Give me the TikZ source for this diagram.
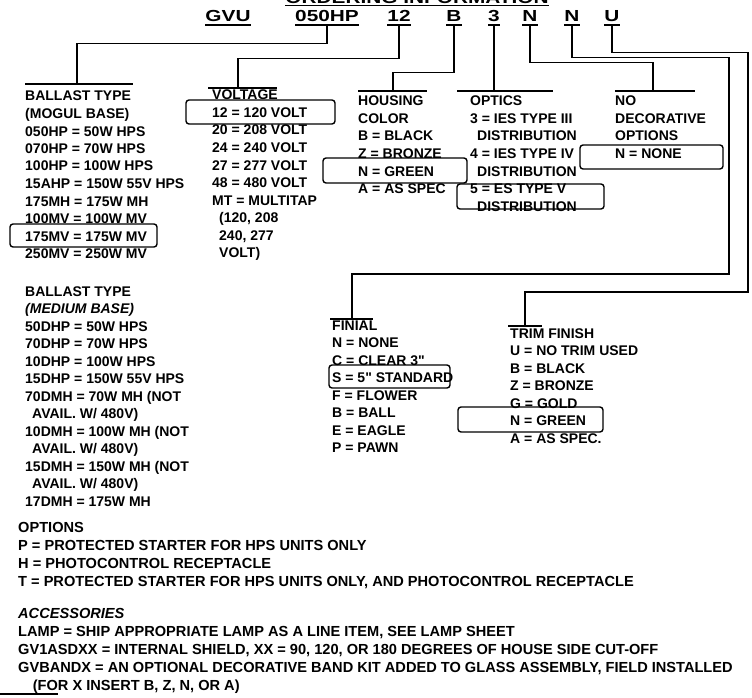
\documentclass[tikz,border=0pt]{standalone}
\usepackage{fontspec}
\setmainfont{Liberation Sans}
\newfontfamily\codefont[FakeStretch=1.3]{Liberation Sans}
\usepackage{tikz}
\usetikzlibrary{calc}

\tikzset{
  txt/.style={anchor=base west, inner sep=0pt, font=\fontsize{14}{17}\selectfont\bfseries},
  foot/.style={txt, font=\fontsize{14.6}{17}\selectfont\bfseries},
  code/.style={anchor=base, inner sep=0pt, font=\codefont\fontsize{16}{18}\selectfont\bfseries},
  conn/.style={line width=1.3pt},
  tee/.style={line width=1.3pt},
  selbox/.style={line width=1.4pt, rounded corners=3pt},
  uline/.style={line width=1.4pt}
}

\begin{document}
\begin{tikzpicture}[x=1pt, y=-1pt]
  \useasboundingbox (0,0) rectangle (752,698);

  \node[code, font=\codefont\fontsize{16}{20}\selectfont\bfseries] (title) at (417,3.5) {ORDERING INFORMATION};
  \draw[uline] ([yshift=-2pt]title.base west) -- ([yshift=-2pt]title.base east);

  \foreach \x/\c/\n in {228/GVU/cgvu, 327/050HP/chp, 399/12/cvolt, 454/B/chsg, 494/3/copt, 530/N/cdeco, 572/N/cfin, 612/U/ctrim}
  {
    \node[code] (\n) at (\x,22) {\c};
    \draw[uline] ([yshift=-3pt]\n.base west) -- ([yshift=-3pt]\n.base east);
  }

  \foreach \t [count=\k from 0] in {BALLAST TYPE, (MOGUL BASE), 050HP = 50W HPS, 070HP = 70W HPS, 100HP = 100W HPS, 15AHP = 150W 55V HPS, 175MH = 175W MH, 100MV = 100W MV, 175MV = 175W MV, 250MV = 250W MV}
    \node[txt] (mog\k) at (25,{101+17.5*\k}) {\t};
  \foreach \t [count=\k from 0] in {VOLTAGE, 12 = 120 VOLT, 20 = 208 VOLT, 24 = 240 VOLT, 27 = 277 VOLT, 48 = 480 VOLT, MT = MULTITAP, {\enspace(120, 208}, {\enspace240, 277}, {\enspace VOLT)}}
    \node[txt] (vol\k) at (212,{100+17.5*\k}) {\t};
  \foreach \t [count=\k from 0] in {HOUSING, COLOR, B = BLACK, Z = BRONZE, N = GREEN, A = AS SPEC}
    \node[txt] (hsg\k) at (358,{106+17.5*\k}) {\t};
  \foreach \t [count=\k from 0] in {OPTICS, 3 = IES TYPE III, {\enspace DISTRIBUTION}, 4 = IES TYPE IV, {\enspace DISTRIBUTION}, 5 = ES TYPE V, {\enspace DISTRIBUTION}}
    \node[txt] (opt\k) at (470,{106+17.5*\k}) {\t};
  \foreach \t [count=\k from 0] in {NO, DECORATIVE, OPTIONS, N = NONE}
    \node[txt] (deco\k) at (615,{106+17.5*\k}) {\t};
  \foreach \t [count=\k from 0] in {BALLAST TYPE, {\itshape(MEDIUM BASE)}, 50DHP = 50W HPS, 70DHP = 70W HPS, 10DHP = 100W HPS, 15DHP = 150W 55V HPS, {70DMH = 70W MH (NOT}, {\enspace AVAIL. W/ 480V)}, {10DMH = 100W MH (NOT}, {\enspace AVAIL. W/ 480V)}, {15DMH = 150W MH (NOT}, {\enspace AVAIL. W/ 480V)}, 17DMH = 175W MH}
    \node[txt] (med\k) at (25,{296+17.5*\k}) {\t};
  \foreach \t [count=\k from 0] in {FINIAL, N = NONE, C = CLEAR 3\textquotedbl, S = 5\textquotedbl{} STANDARD, F = FLOWER, B = BALL, E = EAGLE, P = PAWN}
    \node[txt] (fin\k) at (332,{330+17.5*\k}) {\t};
  \foreach \t [count=\k from 0] in {TRIM FINISH, U = NO TRIM USED, B = BLACK, Z = BRONZE, G = GOLD, N = GREEN, A = AS SPEC.}
    \node[txt] (trm\k) at (510,{338+17.5*\k}) {\t};
  \foreach \t [count=\k from 0] in {OPTIONS, P = PROTECTED STARTER FOR HPS UNITS ONLY, H = PHOTOCONTROL RECEPTACLE, {T = PROTECTED STARTER FOR HPS UNITS ONLY, AND PHOTOCONTROL RECEPTACLE}}
    \node[foot] (optn\k) at (18,{532+18*\k}) {\t};
  \foreach \t [count=\k from 0] in {{\itshape ACCESSORIES}, {LAMP = SHIP APPROPRIATE LAMP AS A LINE ITEM, SEE LAMP SHEET}, {GV1ASDXX = INTERNAL SHIELD, XX = 90, 120, OR 180 DEGREES OF HOUSE SIDE CUT-OFF}, {GVBANDX = AN OPTIONAL DECORATIVE BAND KIT ADDED TO GLASS ASSEMBLY, FIELD INSTALLED}, {\quad(FOR X INSERT B, Z, N, OR A)}}
    \node[foot] (acc\k) at (18,{618+18*\k}) {\t};

  \coordinate (mogtee) at (77,84);
  \coordinate (voltee) at (238,88);
  \coordinate (hsgtee) at (393,91);
  \coordinate (opttee) at (494,91);
  \coordinate (decotee) at (653,91);
  \coordinate (finbend) at (729,274);
  \coordinate (fintee) at (352,319);
  \coordinate (trmbend) at (748,292);
  \coordinate (trmtee) at (525,326);

  \foreach \n/\l/\r in {mogtee/52/56, voltee/30/39, hsgtee/35/34, opttee/37/59, decotee/38/42, fintee/22/21, trmtee/17/17}
    \draw[tee] ([xshift=-\l pt]\n) -- ([xshift=\r pt]\n);

  \draw[conn] ([yshift=-3pt]chp.south) -- ++(0,18) -| (mogtee);
  \draw[conn] ([yshift=-3pt]cvolt.south) -- ++(0,33) -| (voltee);
  \draw[conn] ([yshift=-3pt]chsg.south) -- ++(0,47) -| (hsgtee);
  \draw[conn] ([yshift=-3pt]copt.south) -- (opttee);
  \draw[conn] ([yshift=-3pt]cdeco.south) -- ++(0,37) -| (decotee);
  \draw[conn] ([yshift=-3pt]cfin.south) -- ++(0,32) -| (finbend) -| (fintee);
  \draw[conn] ([yshift=-3pt]ctrim.south) -- ++(0,27) -| (trmbend) -| (trmtee);

  \draw[selbox] (10,224) rectangle (157,247);
  \draw[selbox] (186,100) rectangle (335,124);
  \draw[selbox] (323,158) rectangle (467,183);
  \draw[selbox] (457,184) rectangle (604,209);
  \draw[selbox] (580,145) rectangle (723,169);
  \draw[selbox] (329,365) rectangle (450,388);
  \draw[selbox] (458,407) rectangle (603,432);

  \draw[uline] (0,694) -- (58,694);
\end{tikzpicture}
\end{document}
